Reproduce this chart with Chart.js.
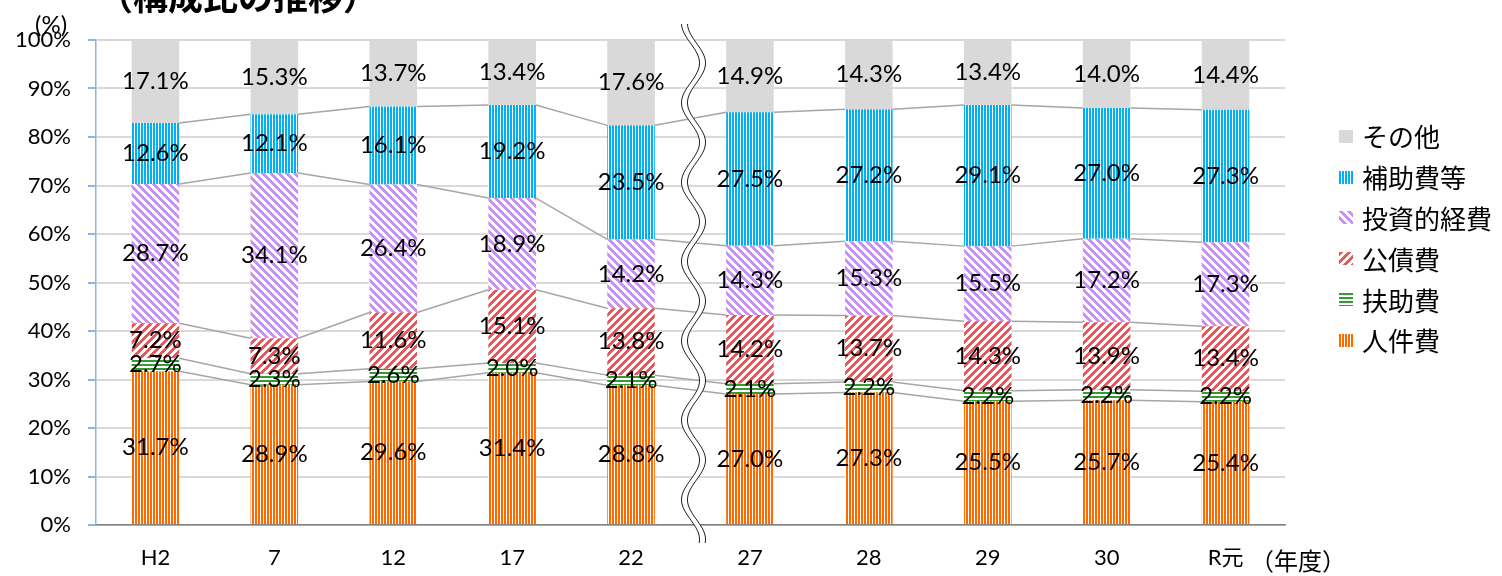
<!DOCTYPE html>
<html lang="ja">
<head>
<meta charset="utf-8">
<script src="https://cdn.jsdelivr.net/npm/chart.js@4"></script>
<style>
  html, body { margin: 0; padding: 0; background: #fff; }
  #wrap { position: relative; width: 1502px; height: 576px; overflow: hidden; }
  #chart { position: absolute; left: 0; top: 0; }
  .txt { position: absolute; white-space: nowrap; color: #000; line-height: 1; }
  #title { left: 98px; top: -31px; font: bold 35px "Noto Sans CJK JP", sans-serif; }
  #unit { left: 35px; top: 9px; font: 24px Lato, "Noto Sans CJK JP", sans-serif; }
  #nendo { left: 1250px; top: 542px; font: 24px "Noto Sans CJK JP", sans-serif; }
  #legend { position: absolute; left: 1339px; top: 116px; }
  .item { height: 40.8px; display: flex; align-items: center; }
  .item canvas { width: 14px; height: 13px; margin-right: 9px; }
  .item span { font: 26px "Noto Sans CJK JP", sans-serif; line-height: 1; }
</style>
</head>
<body>
<div id="wrap">
  <canvas id="chart" width="1502" height="576"></canvas>
  <div class="txt" id="title">（構成比の推移）</div>
  <div class="txt" id="unit">(%)</div>
  <div class="txt" id="nendo">（年度）</div>
  <div id="legend"></div>
</div>
<script>
// 年度
const years = ['H2', '7', '12', '17', '22', '27', '28', '29', '30', 'R元'];

// 構成比 (%)
const jinkenhi   = [31.7, 28.9, 29.6, 31.4, 28.8, 27.0, 27.3, 25.5, 25.7, 25.4]; // 人件費
const fujohi     = [2.7, 2.3, 2.6, 2.0, 2.1, 2.1, 2.2, 2.2, 2.2, 2.2];           // 扶助費
const kousaihi   = [7.2, 7.3, 11.6, 15.1, 13.8, 14.2, 13.7, 14.3, 13.9, 13.4];   // 公債費
const toushi     = [28.7, 34.1, 26.4, 18.9, 14.2, 14.3, 15.3, 15.5, 17.2, 17.3]; // 投資的経費
const hojohi     = [12.6, 12.1, 16.1, 19.2, 23.5, 27.5, 27.2, 29.1, 27.0, 27.3]; // 補助費等
const sonota     = [17.1, 15.3, 13.7, 13.4, 17.6, 14.9, 14.3, 13.4, 14.0, 14.4]; // その他

const yTicks = [0, 10, 20, 30, 40, 50, 60, 70, 80, 90, 100];

const BREAK_AFTER = 4; // 22 と 27 の間に省略線

/* ---------- patterns ---------- */
function makePattern(kind, color) {
  if (kind === 'solid') return color;
  const n = kind === 'vert' ? 3 : kind === 'horiz' ? 4 : 8;
  const c = document.createElement('canvas');
  c.width = n; c.height = n;
  const x = c.getContext('2d');
  x.fillStyle = '#fff';
  x.fillRect(0, 0, n, n);
  x.fillStyle = color;
  for (let i = 0; i < n; i++) {
    for (let j = 0; j < n; j++) {
      let on = false;
      if (kind === 'vert') on = i < 2;
      if (kind === 'horiz') on = j < 2;
      if (kind === 'up') on = ((i + j) % n) < 4;
      if (kind === 'down') on = ((i - j + n) % n) < 4;
      if (on) x.fillRect(i, j, 1, 1);
    }
  }
  return x.createPattern(c, 'repeat');
}

const series = [
  { label: '人件費',     data: jinkenhi, kind: 'vert',  color: '#FF6A00' },
  { label: '扶助費',     data: fujohi,   kind: 'horiz', color: '#349A34' },
  { label: '公債費',     data: kousaihi, kind: 'up',    color: '#E05A60' },
  { label: '投資的経費', data: toushi,   kind: 'down',  color: '#C98FF8' },
  { label: '補助費等',   data: hojohi,   kind: 'vert',  color: '#00B0F0' },
  { label: 'その他',     data: sonota,   kind: 'solid', color: '#D9D9D9' }
];

/* ---------- overlay: series lines, break mark, labels ---------- */
const overlay = {
  id: 'overlay',
  afterDatasetsDraw(chart) {
    const ctx = chart.ctx;
    const area = chart.chartArea;
    const n = chart.data.datasets.length;

    // series lines
    ctx.save();
    ctx.strokeStyle = '#A6A6A6';
    ctx.lineWidth = 1.5;
    for (let i = 0; i < n - 1; i++) {
      const bars = chart.getDatasetMeta(i).data;
      for (let j = 0; j < bars.length - 1; j++) {
        const a = bars[j], b = bars[j + 1];
        ctx.beginPath();
        ctx.moveTo(a.x + a.width / 2, a.y);
        ctx.lineTo(b.x - b.width / 2, b.y);
        ctx.stroke();
      }
    }
    ctx.restore();

    // wavy break
    const m0 = chart.getDatasetMeta(0).data;
    const cx = (m0[BREAK_AFTER].x + m0[BREAK_AFTER + 1].x) / 2 + 3;
    const y0 = area.top - 16, y1 = area.bottom + 18;
    const amp = 9, period = 79.4, gap = 3;
    const wx = y => cx + amp * Math.cos(2 * Math.PI * (y - (area.top + 23)) / period);
    ctx.save();
    ctx.beginPath();
    for (let y = y0; y <= y1; y++) ctx.lineTo(wx(y) - gap, y);
    for (let y = y1; y >= y0; y--) ctx.lineTo(wx(y) + gap, y);
    ctx.closePath();
    ctx.fillStyle = '#fff';
    ctx.fill();
    ctx.strokeStyle = '#222';
    ctx.lineWidth = 1;
    [-gap, gap].forEach(off => {
      ctx.beginPath();
      for (let y = y0; y <= y1; y++) ctx.lineTo(wx(y) + off, y);
      ctx.stroke();
    });
    ctx.restore();

    // data labels
    ctx.save();
    ctx.font = '24px Lato, sans-serif';
    ctx.fillStyle = '#000';
    ctx.textAlign = 'center';
    ctx.textBaseline = 'middle';
    chart.data.datasets.forEach((ds, i) => {
      chart.getDatasetMeta(i).data.forEach((bar, j) => {
        const v = ds.data[j];
        ctx.fillText(v.toFixed(1) + '%', bar.x, (bar.y + bar.base) / 2);
      });
    });
    ctx.restore();
  }
};

Chart.defaults.font.family = 'Lato, "Noto Sans CJK JP", sans-serif';
Chart.defaults.color = '#000';

const chart = new Chart(document.getElementById('chart'), {
  type: 'bar',
  data: {
    labels: years,
    datasets: series.map(s => ({
      label: s.label,
      data: s.data,
      backgroundColor: makePattern(s.kind, s.color),
      borderWidth: 0,
      barPercentage: 0.4,
      categoryPercentage: 1.0
    }))
  },
  options: {
    responsive: false,
    devicePixelRatio: 1,
    animation: false,
    layout: { padding: { top: 40, right: 217, left: 0, bottom: 0 } },
    plugins: { legend: { display: false }, tooltip: { enabled: false } },
    scales: {
      x: {
        stacked: true,
        grid: { display: false, drawTicks: false },
        border: { color: '#808080', width: 1.5 },
        ticks: { font: { size: 22 }, padding: 20, maxRotation: 0 },
        afterFit(s) { s.height = 51; }
      },
      y: {
        stacked: true,
        min: 0,
        max: 100,
        afterBuildTicks(s) { s.ticks = yTicks.map(v => ({ value: v })); },
        grid: { color: '#D9D9D9', lineWidth: 2, tickColor: '#8EB4E3', tickLength: 8 },
        border: { color: '#8EB4E3', width: 1.5 },
        ticks: { font: { size: 22 }, padding: 17, callback: v => v + '%' },
        afterFit(s) { s.width = 96; }
      }
    }
  },
  plugins: [overlay]
});

/* ---------- legend ---------- */
const legend = document.getElementById('legend');
chart.data.datasets.slice().reverse().forEach(ds => {
  const item = document.createElement('div');
  item.className = 'item';
  const sw = document.createElement('canvas');
  sw.width = 14; sw.height = 13;
  const sx = sw.getContext('2d');
  sx.fillStyle = ds.backgroundColor;
  sx.fillRect(0, 0, 14, 13);
  const t = document.createElement('span');
  t.textContent = ds.label;
  item.appendChild(sw);
  item.appendChild(t);
  legend.appendChild(item);
});
</script>
</body>
</html>
